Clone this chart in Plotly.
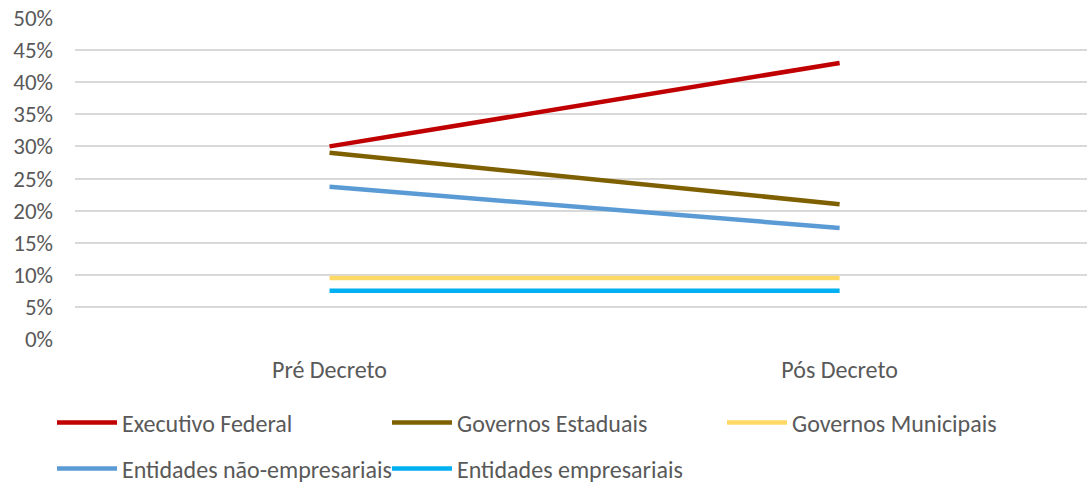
import plotly.graph_objects as go

categories = ["Pré Decreto", "Pós Decreto"]
series_names = ["Executivo Federal", "Governos Estaduais", "Governos Municipais",
                "Entidades não-empresariais", "Entidades empresariais"]
executivo_federal = [0.30, 0.43]
governos_estaduais = [0.29, 0.21]
governos_municipais = [0.095, 0.095]
entidades_nao_empresariais = [0.237, 0.173]
entidades_empresariais = [0.075, 0.075]
y_ticks = [0, 0.05, 0.10, 0.15, 0.20, 0.25, 0.30, 0.35, 0.40, 0.45, 0.50]

values = [executivo_federal, governos_estaduais, governos_municipais,
          entidades_nao_empresariais, entidades_empresariais]
colors = ["#C00000", "#7F6000", "#FFD966", "#5B9BD5", "#00B0F0"]
legends = ["legend", "legend", "legend", "legend2", "legend2"]

FONT = "Calibri, Carlito, Lato, sans-serif"
TXT = "#595959"
FS = 24

fig = go.Figure()
for name, vals, col, lg in zip(series_names, values, colors, legends):
    fig.add_trace(go.Scatter(x=categories, y=vals, name=name, mode="lines",
                             line=dict(color=col, width=4.5), legend=lg))

leg_common = dict(orientation="h", xref="container", yref="container",
                  xanchor="left", yanchor="middle", itemwidth=60,
                  entrywidth=260, entrywidthmode="pixels",
                  font=dict(family=FONT, size=FS, color=TXT),
                  bgcolor="rgba(0,0,0,0)", traceorder="normal")

fig.update_layout(
    width=1087, height=484,
    margin=dict(l=75, r=0, t=18, b=145),
    paper_bgcolor="white", plot_bgcolor="white",
    font=dict(family=FONT, size=FS, color=TXT),
    xaxis=dict(type="category", range=[-0.499, 1.485], showgrid=False,
               showline=False, zeroline=False, ticks="",
               ticklabelstandoff=14,
               tickfont=dict(family=FONT, size=FS, color=TXT)),
    yaxis=dict(range=[0, 0.5], tickvals=y_ticks, tickformat=".0%",
               showgrid=True, gridcolor="#D9D9D9", gridwidth=1.5,
               zeroline=False, showline=False, ticks="",
               ticklabelstandoff=21,
               tickfont=dict(family=FONT, size=23, color=TXT)),
    legend=dict(x=52 / 1087, y=1 - 423 / 484, **leg_common),
    legend2=dict(x=52 / 1087, y=1 - 469 / 484, **leg_common),
)

fig.write_html("out.html")
